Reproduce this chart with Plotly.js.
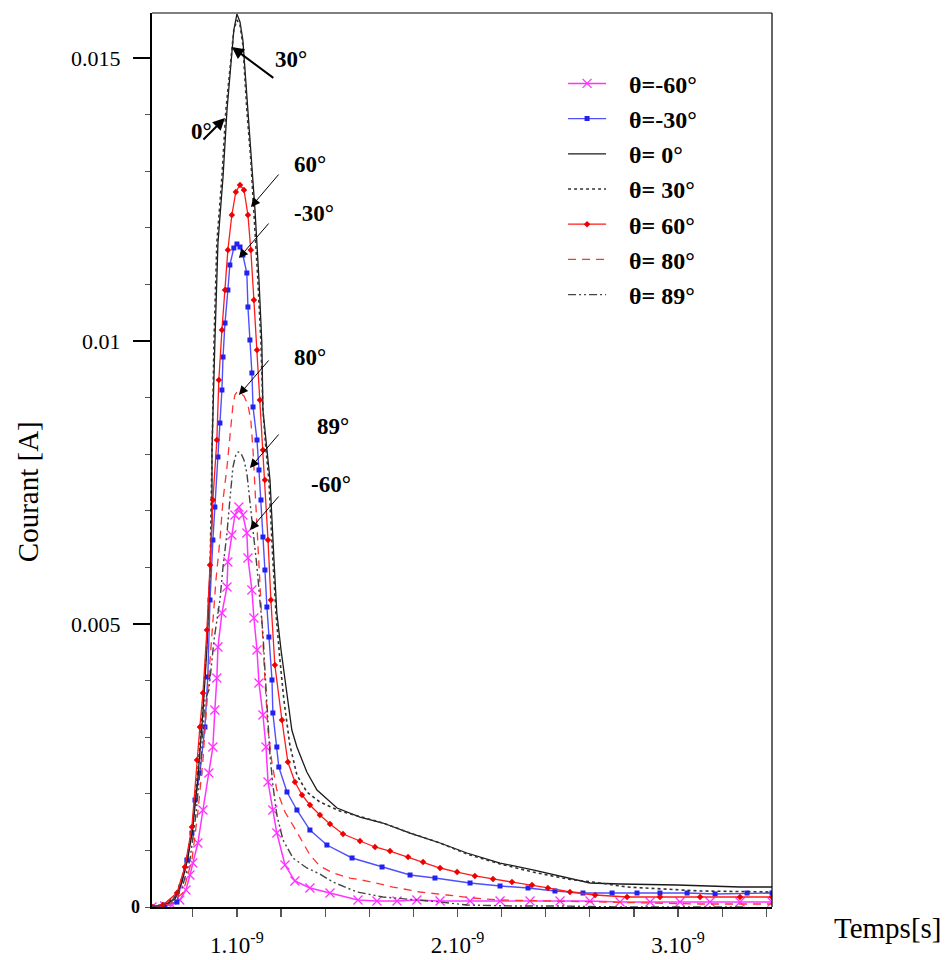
<!DOCTYPE html>
<html>
<head>
<meta charset="utf-8">
<script src="https://cdn.plot.ly/plotly-3.0.1.min.js"></script>
<style>html,body{margin:0;padding:0;background:#fff;}#chart{width:948px;height:960px;}</style>
</head>
<body>
<div id="chart"></div>
<script>
// Time in ns (axis labels show 1.10^-9 etc.), current in A
const t_m60 = [0.615,0.673,0.705,0.741,0.769,0.787,0.800,0.823,0.846,0.873,0.891,0.900,0.909,0.914,0.932,0.955,0.959,0.977,0.991,1.009,1.027,1.045,1.050,1.068,1.077,1.091,1.100,1.118,1.132,1.141,1.163,1.181,1.218,1.263,1.331,1.422,1.549,1.635,1.726,1.816,1.921,2.057,2.193,2.329,2.465,2.601,2.737,2.873,3.009,3.145,3.281,3.426];
const i_m60 = [0,0.000018,0.000035,0.000124,0.000300,0.000565,0.000777,0.001131,0.001714,0.002367,0.002827,0.003481,0.004046,0.004594,0.005194,0.005654,0.006095,0.006572,0.006926,0.007067,0.006926,0.006608,0.006166,0.005601,0.005106,0.004541,0.003958,0.003392,0.002827,0.002208,0.001714,0.001307,0.000742,0.000459,0.000336,0.000247,0.000124,0.000106,0.000106,0.000124,0.000106,0.000106,0.000106,0.000106,0.000106,0.000106,0.000088,0.000088,0.000088,0.000088,0.000088,0.000088];

const t_m30 = [0.615,0.673,0.728,0.773,0.796,0.810,0.832,0.855,0.868,0.878,0.891,0.900,0.914,0.923,0.932,0.937,0.946,0.959,0.968,0.986,1.000,1.014,1.027,1.045,1.050,1.059,1.068,1.073,1.091,1.100,1.109,1.118,1.127,1.136,1.145,1.159,1.163,1.181,1.190,1.227,1.272,1.331,1.408,1.522,1.658,1.785,1.898,2.057,2.193,2.320,2.442,2.569,2.701,2.814,2.918,3.041,3.168,3.313,3.426];
const i_m30 = [0,0.000035,0.000088,0.000830,0.001307,0.001890,0.002367,0.003180,0.004064,0.005424,0.006484,0.007067,0.007951,0.008551,0.009134,0.009717,0.010318,0.010901,0.011343,0.011643,0.011714,0.011661,0.011519,0.011201,0.010601,0.010018,0.009435,0.008834,0.008251,0.007721,0.007191,0.006537,0.005954,0.005300,0.004770,0.004011,0.003428,0.002827,0.002473,0.002032,0.001714,0.001360,0.001095,0.000866,0.000707,0.000565,0.000512,0.000424,0.000371,0.000336,0.000283,0.000247,0.000247,0.000247,0.000247,0.000247,0.000230,0.000247,0.000247];

const t_0 = [0.615,0.673,0.719,0.751,0.778,0.800,0.823,0.846,0.864,0.878,0.887,0.887,0.891,0.900,0.914,0.937,0.955,0.973,0.986,1.000,1.014,1.027,1.050,1.068,1.082,1.100,1.113,1.118,1.136,1.150,1.168,1.181,1.200,1.218,1.249,1.272,1.317,1.363,1.454,1.558,1.662,1.785,1.921,2.043,2.193,2.342,2.497,2.601,2.737,2.995,3.281,3.426];
const i_0 = [0,0.000035,0.000141,0.000442,0.000866,0.001396,0.002279,0.003445,0.004576,0.005777,0.006837,0.008074,0.008781,0.009965,0.011731,0.012898,0.014081,0.014965,0.015495,0.015777,0.015636,0.015318,0.014081,0.013198,0.012314,0.011078,0.009965,0.008781,0.008074,0.007544,0.006131,0.005194,0.004541,0.004011,0.003127,0.002827,0.002385,0.002067,0.001749,0.001590,0.001484,0.001307,0.001131,0.000954,0.000777,0.000654,0.000512,0.000424,0.000406,0.000389,0.000353,0.000353];

const t_30 = [0.615,0.673,0.719,0.751,0.778,0.800,0.823,0.846,0.864,0.878,0.882,0.887,0.891,0.896,0.909,0.932,0.950,0.973,0.986,1.000,1.014,1.027,1.045,1.063,1.077,1.095,1.109,1.118,1.132,1.145,1.163,1.177,1.195,1.213,1.240,1.272,1.317,1.376,1.467,1.590,1.662,1.785,1.921,2.043,2.193,2.342,2.497,2.646,2.769,3.100,3.426];
const i_30 = [0,0.000053,0.000177,0.000512,0.000972,0.001502,0.002420,0.003569,0.004717,0.005866,0.006837,0.008074,0.008781,0.009965,0.011731,0.012898,0.014081,0.015053,0.015495,0.015671,0.015583,0.015230,0.014081,0.013198,0.012314,0.011078,0.009965,0.008781,0.008074,0.007544,0.006131,0.005194,0.004364,0.003657,0.002862,0.002332,0.002032,0.001855,0.001696,0.001555,0.001484,0.001307,0.001131,0.000936,0.000760,0.000618,0.000495,0.000424,0.000353,0.000283,0.000265];

const t_60 = [0.615,0.664,0.728,0.764,0.796,0.819,0.832,0.846,0.864,0.878,0.891,0.909,0.918,0.932,0.946,0.959,0.977,0.995,1.014,1.032,1.050,1.063,1.077,1.091,1.104,1.118,1.127,1.141,1.154,1.172,1.204,1.231,1.263,1.295,1.331,1.376,1.422,1.481,1.558,1.626,1.694,1.776,1.844,1.921,1.998,2.079,2.161,2.247,2.338,2.410,2.510,2.624,2.769,2.918,3.100,3.281,3.426];
const i_60 = [0,0.000035,0.000247,0.000707,0.001413,0.002597,0.003180,0.003781,0.004894,0.006042,0.007191,0.008251,0.009311,0.010194,0.010901,0.011608,0.012226,0.012633,0.012756,0.012668,0.012226,0.011608,0.010724,0.009841,0.008958,0.008074,0.007544,0.006484,0.005424,0.004276,0.003304,0.002562,0.002208,0.001979,0.001802,0.001625,0.001466,0.001290,0.001166,0.001060,0.000989,0.000883,0.000795,0.000689,0.000618,0.000548,0.000495,0.000442,0.000389,0.000336,0.000265,0.000212,0.000177,0.000177,0.000177,0.000177,0.000177];

const t_80 = [0.615,0.696,0.755,0.796,0.823,0.846,0.868,0.887,0.905,0.923,0.937,0.955,0.968,0.982,0.991,1.000,1.014,1.032,1.050,1.063,1.073,1.082,1.095,1.104,1.113,1.127,1.141,1.159,1.181,1.218,1.272,1.331,1.376,1.435,1.512,1.590,1.707,1.830,1.952,2.070,2.193,2.420,2.646,2.873,3.100,3.426];
const i_80 = [0,0.000053,0.000247,0.000830,0.001678,0.002597,0.003834,0.004894,0.005777,0.006484,0.007191,0.007774,0.008375,0.008869,0.009046,0.009099,0.009081,0.009028,0.008869,0.008604,0.008074,0.007367,0.006307,0.005601,0.004894,0.004011,0.003127,0.002544,0.002067,0.001678,0.001325,0.000919,0.000724,0.000601,0.000512,0.000459,0.000353,0.000265,0.000212,0.000159,0.000124,0.000106,0.000088,0.000071,0.000053,0.000053];

const t_89 = [0.615,0.696,0.751,0.787,0.814,0.837,0.855,0.873,0.896,0.909,0.923,0.937,0.955,0.968,0.982,0.995,1.005,1.018,1.032,1.045,1.059,1.073,1.091,1.104,1.118,1.127,1.141,1.150,1.163,1.181,1.209,1.254,1.317,1.376,1.435,1.544,1.662,1.785,1.921,2.043,2.252,2.465,2.737,3.009,3.304];
const i_89 = [0,0.000071,0.000336,0.000830,0.001625,0.002597,0.003657,0.003834,0.004717,0.005071,0.005424,0.006007,0.006608,0.007191,0.007774,0.007986,0.008039,0.008021,0.007898,0.007668,0.007191,0.006608,0.006007,0.005424,0.004841,0.004187,0.003304,0.002686,0.002155,0.001625,0.001184,0.000866,0.000689,0.000583,0.000442,0.000265,0.000177,0.000141,0.000088,0.000035,0.000018,0.000018,0,0,0];

const seriesNames = ['θ=-60°','θ=-30°','θ= 0°','θ= 30°','θ= 60°','θ= 80°','θ= 89°'];
const xTickVals = [1.0, 2.0, 3.0];
const xTickText = ['1.10<sup>-9</sup>','2.10<sup>-9</sup>','3.10<sup>-9</sup>'];
const yTickVals = [0.005,0.01,0.015];
const yTickText = ['0.005','0.01','0.015'];
const yZeroLabel = '0';

const serif = 'Liberation Serif, Times New Roman, serif';

function tr(x, y, name, line, marker, mode) {
  return {x: x, y: y, name: '<b>\u00A0\u00A0\u00A0' + name + '</b>', type: 'scatter', mode: mode,
          line: line, marker: marker, legendgroup: name};
}
const traces = [
  tr(t_m60, i_m60, seriesNames[0], {color:'#ff33ff', width:1.5}, {symbol:'x-thin-open', size:9, color:'#ff33ff', line:{width:1.3, color:'#ff33ff'}}, 'lines+markers'),
  tr(t_m30, i_m30, seriesNames[1], {color:'#4f4fff', width:1.4}, {symbol:'square', size:5, color:'#2222ee'}, 'lines+markers'),
  tr(t_0, i_0, seriesNames[2], {color:'#1a1a1a', width:1.3}, {}, 'lines'),
  tr(t_30, i_30, seriesNames[3], {color:'#333333', width:1.6, dash:'dot'}, {}, 'lines'),
  tr(t_60, i_60, seriesNames[4], {color:'#ff1a1a', width:1.3}, {symbol:'diamond', size:5, color:'#ee0000'}, 'lines+markers'),
  tr(t_80, i_80, seriesNames[5], {color:'#ff3333', width:1.3, dash:'8px,6px'}, {}, 'lines'),
  tr(t_89, i_89, seriesNames[6], {color:'#444444', width:1.4, dash:'8px,3px,2px,3px,2px,3px'}, {}, 'lines')
];

function arrow(x, y, ax, ay, w) {
  return {x: x, y: y, xref:'x', yref:'y', ax: ax, ay: ay, text: '', showarrow: true,
          arrowhead: 2, arrowsize: w > 1.5 ? 1.2 : 1.8, arrowwidth: w, arrowcolor: '#000', standoff: 0};
}
function label(x, y, text) {
  return {x: x, y: y, xref:'x', yref:'y', text: '<b>' + text + '</b>', showarrow: false,
          xanchor:'center', yanchor:'middle',
          font: {family: serif, size: 23, color: '#000'}};
}

const annotations = [
  arrow(0.977, 0.015194, 43, 32, 2),
  arrow(0.9456, 0.01394, -23, 23, 2),
  arrow(1.0635, 0.012367, 29, -34, 1),
  arrow(1.009, 0.011466, 31, -36, 1),
  arrow(1.009, 0.009046, 31, -36, 1),
  arrow(1.059, 0.007756, 30, -35, 1),
  arrow(1.059, 0.006661, 30, -35, 1),
  label(1.245, 0.01498, '30°'),
  label(0.841, 0.01371, '0°'),
  label(1.331, 0.01311, '60°'),
  label(1.349, 0.01226, '-30°'),
  label(1.331, 0.009717, '80°'),
  label(1.435, 0.008498, '89°'),
  label(1.426, 0.007473, '-60°'),
  {x: -0.0274, y: 0, xref:'paper', yref:'paper', text:'<b>' + yZeroLabel + '</b>', showarrow:false,
   xanchor:'center', yanchor:'middle', font:{family: serif, size: 18, color:'#000'}},
  {x: 1.187, y: -0.0235, xref:'paper', yref:'paper', text:'Temps[s]', showarrow:false,
   xanchor:'center', yanchor:'middle', font:{family: serif, size: 29, color:'#000'}},
  {x: -0.2, y: 0.464, xref:'paper', yref:'paper', text:'Courant [A]', showarrow:false, textangle:-90,
   xanchor:'center', yanchor:'middle', font:{family: serif, size: 29, color:'#000'}}
];

const layout = {
  width: 948, height: 960,
  margin: {l:152, r:176, t:13, b:53},
  paper_bgcolor: '#fff', plot_bgcolor: '#fff',
  font: {family: serif, color: '#000'},
  showlegend: true,
  legend: {x: 0.663, y: 0.946, xanchor:'left', yanchor:'top', bgcolor:'rgba(0,0,0,0)',
           font:{family: serif, size: 24, color:'#000'}, tracegroupgap: 1, itemwidth: 38},
  xaxis: {range: [0.615, 3.426], showgrid:false, zeroline:false, showline:true, linewidth:2, linecolor:'#000',
          tickmode:'array', tickvals: xTickVals, ticktext: xTickText, ticks:'outside', ticklen:8, tickwidth:1.2, tickcolor:'#555',
          tickfont:{family: serif, size: 23, color:'#000'}, ticklabelstandoff: 8,
          minor: {dtick: 0.2, tick0: 0, ticks:'outside', ticklen:8, tickwidth:1.2, tickcolor:'#555', showgrid:false}},
  yaxis: {range: [0, 0.015795], showgrid:false, zeroline:false, showline:true, linewidth:2, linecolor:'#000',
          tickmode:'array', tickvals: yTickVals, ticktext: yTickText, ticks:'outside', ticklen:17, tickwidth:1.5, tickcolor:'#000',
          tickfont:{family: serif, size: 22, color:'#000'}, ticklabelstandoff: 8,
          minor: {dtick: 0.001, tick0: 0, ticks:'outside', ticklen:5, tickwidth:1, tickcolor:'#555', showgrid:false}},
  shapes: [
    {type:'line', xref:'paper', yref:'paper', x0:0, x1:1, y0:1, y1:1, line:{color:'#000', width:1}},
    {type:'line', xref:'paper', yref:'paper', x0:1, x1:1, y0:0, y1:1, line:{color:'#000', width:1.2}}
  ],
  annotations: annotations
};

Plotly.newPlot('chart', traces, layout, {displayModeBar:false, staticPlot:true});
</script>
</body>
</html>
